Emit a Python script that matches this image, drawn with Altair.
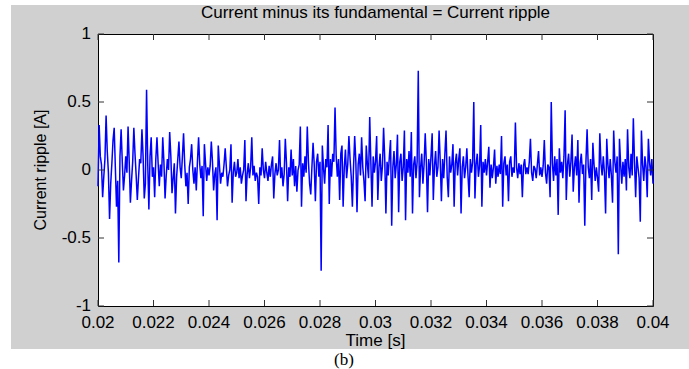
import altair as alt
import numpy as np
import pandas as pd

# Time window of the ripple record [s]
T_START, T_END = 0.02, 0.04

# Current ripple samples [A], six samples per switching period
ripple_a = [
    -0.12, 0.33, 0.10, 0.04, -0.20, -0.05,
    0.08, 0.40, 0.14, -0.02, -0.36, -0.10,
    0.05, 0.22, 0.31, 0.02, -0.27, -0.08,
    -0.68, 0.10, 0.30, 0.06, -0.15, -0.04,
    0.10, -0.02, 0.32, 0.06, -0.24, -0.08,
    0.06, 0.31, 0.12, -0.04, -0.22, -0.06,
    0.08, 0.05, 0.30, 0.10, -0.21, -0.10,
    0.59, 0.05, -0.29, 0.10, 0.24, -0.05,
    0.02, -0.20, 0.08, 0.24, 0.05, -0.12,
    0.04, -0.05, 0.24, 0.06, -0.21, -0.04,
    0.08, 0.00, 0.28, 0.10, -0.17, -0.06,
    0.05, -0.32, -0.05, 0.08, 0.21, 0.02,
    -0.06, 0.10, 0.27, 0.04, -0.12, -0.02,
    -0.25, 0.02, 0.08, 0.19, 0.00, -0.10,
    0.02, -0.15, 0.06, 0.24, 0.04, -0.06,
    0.03, -0.34, 0.19, 0.05, -0.08, 0.02,
    -0.04, 0.03, 0.21, 0.06, -0.15, -0.03,
    0.02, -0.37, 0.18, 0.04, -0.10, -0.02,
    -0.05, 0.04, 0.16, 0.02, -0.12, -0.04,
    0.00, 0.19, -0.24, -0.02, 0.06, -0.05,
]
ripple_b = [
    -0.02, 0.08, -0.06, 0.02, -0.10, -0.04,
    0.00, 0.22, -0.23, -0.03, 0.05, -0.06,
    0.02, 0.24, -0.04, 0.03, -0.08, -0.02,
    -0.05, -0.25, 0.02, -0.04, 0.16, 0.00,
    -0.06, 0.06, -0.02, -0.08, 0.03, -0.05,
    0.04, 0.10, -0.21, -0.03, 0.05, -0.04,
    0.00, 0.22, -0.06, 0.02, -0.12, -0.03,
    0.23, 0.05, -0.23, 0.02, -0.05, 0.15,
    -0.04, 0.08, -0.12, 0.03, -0.16, 0.00,
    0.04, 0.32, -0.27, 0.05, -0.05, 0.10,
    -0.02, 0.32, 0.06, -0.10, -0.18, 0.02,
    0.20, 0.04, -0.23, 0.06, 0.12, -0.05,
    0.06, -0.74, 0.18, 0.02, -0.10, 0.08,
    0.02, 0.33, -0.25, 0.08, -0.05, 0.12,
    0.06, 0.46, 0.10, -0.05, 0.08, -0.22,
    0.12, 0.18, -0.27, 0.02, 0.15, -0.06,
    0.04, 0.25, 0.08, -0.05, -0.27, 0.02,
    0.25, 0.06, -0.31, 0.04, 0.12, -0.04,
    0.24, 0.02, -0.08, -0.23, 0.18, 0.04,
    -0.06, 0.39, 0.05, -0.27, 0.10, -0.02,
]
ripple_c = [
    0.06, 0.25, -0.22, 0.02, 0.12, -0.08,
    0.03, 0.31, 0.08, -0.32, 0.06, -0.04,
    0.10, 0.22, -0.41, 0.02, 0.14, -0.06,
    0.04, 0.26, -0.31, 0.06, 0.12, -0.08,
    0.02, 0.29, -0.37, 0.08, -0.02, 0.14,
    -0.05, 0.28, -0.32, 0.04, 0.10, -0.06,
    0.06, 0.73, -0.20, 0.02, 0.12, -0.10,
    0.04, 0.27, 0.05, -0.31, 0.08, -0.04,
    0.10, 0.27, -0.22, 0.03, 0.14, -0.05,
    0.02, 0.29, 0.06, -0.23, 0.08, -0.06,
    0.12, 0.29, -0.05, -0.20, 0.10, -0.02,
    0.04, 0.19, -0.27, 0.05, 0.12, -0.04,
    0.08, 0.16, -0.32, 0.02, 0.10, -0.06,
    0.02, 0.16, -0.04, -0.20, 0.08, -0.02,
    0.06, 0.50, -0.21, 0.04, 0.12, -0.05,
    0.03, 0.33, -0.27, 0.06, -0.02, 0.08,
    -0.04, 0.06, 0.17, -0.13, 0.04, -0.06,
    0.02, 0.15, -0.10, 0.03, -0.05, 0.04,
    -0.03, 0.25, -0.27, 0.05, 0.10, -0.04,
    0.04, -0.23, 0.06, 0.10, -0.05, 0.02,
]
ripple_d = [
    -0.02, 0.35, 0.02, -0.06, 0.05, -0.03,
    0.04, -0.20, 0.03, 0.08, -0.03, 0.02,
    -0.03, 0.06, 0.23, -0.02, -0.08, 0.03,
    0.01, -0.06, 0.04, 0.14, -0.04, 0.02,
    -0.05, 0.03, 0.22, -0.02, -0.10, 0.04,
    0.02, -0.20, 0.50, 0.05, -0.08, 0.10,
    -0.04, 0.08, -0.33, 0.16, -0.02, 0.06,
    -0.06, 0.10, 0.44, -0.22, 0.04, 0.12,
    -0.05, 0.06, 0.26, -0.16, 0.02, 0.10,
    -0.04, 0.22, -0.24, 0.05, 0.12, -0.03,
    0.04, -0.41, 0.06, 0.30, 0.02, -0.06,
    0.08, -0.22, 0.20, 0.04, -0.08, 0.02,
    -0.06, -0.16, 0.27, 0.05, -0.04, 0.10,
    -0.02, -0.32, 0.23, 0.04, -0.06, 0.08,
    -0.04, -0.24, 0.29, 0.06, -0.02, 0.10,
    -0.62, 0.23, 0.04, -0.10, 0.06, -0.05,
    0.08, -0.15, 0.30, 0.02, -0.06, 0.12,
    -0.04, 0.38, 0.06, -0.20, 0.10, 0.02,
    -0.06, -0.38, 0.29, 0.04, -0.08, 0.10,
    0.02, -0.20, 0.23, 0.06, -0.04, 0.08,
    -0.10,
]

x_ticks = [0.02, 0.022, 0.024, 0.026, 0.028, 0.03, 0.032, 0.034, 0.036, 0.038, 0.04]
x_labels = ["0.02", "0.022", "0.024", "0.026", "0.028", "0.03",
            "0.032", "0.034", "0.036", "0.038", "0.04"]
y_ticks = [-1, -0.5, 0, 0.5, 1]
y_labels = ["-1", "-0.5", "0", "0.5", "1"]

TITLE = "Current minus its fundamental = Current ripple"
X_TITLE = "Time [s]"
Y_TITLE = "Current ripple [A]"
CAPTION = "(b)"

ripple = ripple_a + ripple_b + ripple_c + ripple_d
signal = pd.DataFrame({"t": np.linspace(T_START, T_END, len(ripple)), "i": ripple})
xt = pd.DataFrame({"v": x_ticks, "lab": x_labels})
yt = pd.DataFrame({"v": y_ticks, "lab": y_labels})
one = pd.DataFrame({"k": [0]})

W, H = 555, 272
PAD = {"left": 98, "top": 34, "right": 36, "bottom": 63}
FONT = "Liberation Sans"
FS = 17
FIG_GRAY = "#d0d0d0"
TICK_COLOR = "#333333"

xs = alt.Scale(domain=[T_START, T_END], nice=False, zero=False)
ys = alt.Scale(domain=[-1, 1], nice=False, zero=False)

line = alt.Chart(signal).mark_line(color="#0000ff", strokeWidth=1.5).encode(
    x=alt.X("t:Q", scale=xs, axis=None),
    y=alt.Y("i:Q", scale=ys, axis=None),
)

# inward tick marks on all four sides of the box
tick_top = alt.Chart(xt).mark_rule(color=TICK_COLOR).encode(
    x=alt.X("v:Q", scale=xs, axis=None), y=alt.value(0), y2=alt.value(6))
tick_bottom = alt.Chart(xt).mark_rule(color=TICK_COLOR).encode(
    x=alt.X("v:Q", scale=xs, axis=None), y=alt.value(H), y2=alt.value(H - 6))
tick_left = alt.Chart(yt).mark_rule(color=TICK_COLOR).encode(
    y=alt.Y("v:Q", scale=ys, axis=None), x=alt.value(0), x2=alt.value(6))
tick_right = alt.Chart(yt).mark_rule(color=TICK_COLOR).encode(
    y=alt.Y("v:Q", scale=ys, axis=None), x=alt.value(W), x2=alt.value(W - 6))

# tick labels
x_tick_text = alt.Chart(xt).mark_text(
    font=FONT, fontSize=FS, color="black", align="center", baseline="middle"
).encode(x=alt.X("v:Q", scale=xs, axis=None), y=alt.value(H + 17), text="lab:N")
y_tick_text = alt.Chart(yt).mark_text(
    font=FONT, fontSize=FS, color="black", align="right", baseline="middle"
).encode(y=alt.Y("v:Q", scale=ys, axis=None), x=alt.value(-7), text="lab:N")

def label(txt, x, y, angle=0, font=FONT, size=FS):
    return alt.Chart(one).mark_text(
        text=txt, font=font, fontSize=size, color="black",
        align="center", baseline="middle", angle=angle,
    ).encode(x=alt.value(x), y=alt.value(y))

title = label(TITLE, W / 2, 13 - PAD["top"])
x_title = label(X_TITLE, W / 2, 341 - PAD["top"])
y_title = label(Y_TITLE, 41 - PAD["left"], H / 2, angle=270, size=16)
caption = label(CAPTION, 344 - PAD["left"], 360 - PAD["top"], font="Liberation Serif", size=17)

# white page margins around the gray figure window
def blank(x0, x1, y0, y1):
    return alt.Chart(one).mark_rect(color="white").encode(
        x=alt.value(x0), x2=alt.value(x1), y=alt.value(y0), y2=alt.value(y1))

margin_left = blank(-PAD["left"], -PAD["left"] + 11, -PAD["top"], H + PAD["bottom"])
margin_top = blank(-PAD["left"], W + PAD["right"], -PAD["top"], -PAD["top"] + 5)
margin_bottom = blank(-PAD["left"], W + PAD["right"], H + 43, H + PAD["bottom"])

chart = alt.layer(
    margin_left, margin_top, margin_bottom, line,
    tick_top, tick_bottom, tick_left, tick_right,
    x_tick_text, y_tick_text, title, x_title, y_title, caption,
).properties(
    width=W, height=H,
    autosize=alt.AutoSizeParams(type="none"),
    padding=PAD,
    background=FIG_GRAY,
).configure_view(
    fill="white", stroke="black", strokeWidth=1,
)

chart.save("out.html", embed_options={"renderer": "svg", "actions": False})
